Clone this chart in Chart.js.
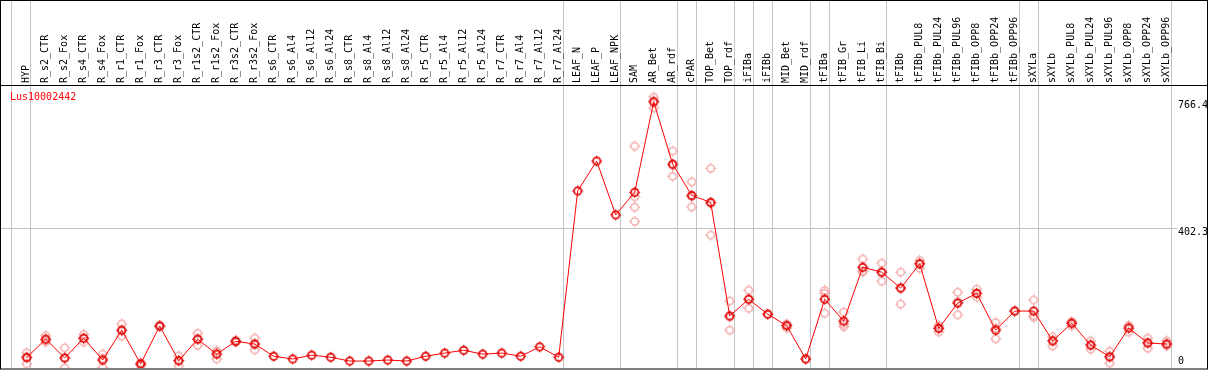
<!DOCTYPE html>
<html>
<head>
<meta charset="utf-8">
<script src="https://cdn.jsdelivr.net/npm/chart.js@4/dist/chart.umd.min.js"></script>
<style>
  html, body { margin: 0; padding: 0; background: #fff; }
  #wrap { width: 1209px; height: 370px; }
</style>
</head>
<body>
<div id="wrap"><canvas id="chart" width="1209" height="370"></canvas></div>
<script>
const geneName = 'Lus10002442';

const categories = [
  'HYP', 'R_s2_CTR', 'R_s2_Fox', 'R_s4_CTR', 'R_s4_Fox', 'R_r1_CTR', 'R_r1_Fox',
  'R_r3_CTR', 'R_r3_Fox', 'R_r1s2_CTR', 'R_r1s2_Fox', 'R_r3s2_CTR', 'R_r3s2_Fox',
  'R_s6_CTR', 'R_s6_Al4', 'R_s6_Al12', 'R_s6_Al24', 'R_s8_CTR', 'R_s8_Al4',
  'R_s8_Al12', 'R_s8_Al24', 'R_r5_CTR', 'R_r5_Al4', 'R_r5_Al12', 'R_r5_Al24',
  'R_r7_CTR', 'R_r7_Al4', 'R_r7_Al12', 'R_r7_Al24', 'LEAF_N', 'LEAF_P', 'LEAF_NPK',
  'SAM', 'AR_Bet', 'AR_rdf', 'cPAR', 'TOP_Bet', 'TOP_rdf', 'iFIBa', 'iFIBb',
  'MID_Bet', 'MID_rdf', 'tFIBa', 'tFIB_Gr', 'tFIB_Li', 'tFIB_Bi', 'tFIBb',
  'tFIBb_PUL8', 'tFIBb_PUL24', 'tFIBb_PUL96', 'tFIBb_OPP8', 'tFIBb_OPP24', 'tFIBb_OPP96',
  'sXYLa', 'sXYLb', 'sXYLb_PUL8', 'sXYLb_PUL24', 'sXYLb_PUL96', 'sXYLb_OPP8',
  'sXYLb_OPP24', 'sXYLb_OPP96'
];

// mean expression per tissue
const means = [
  30, 83, 29, 86, 23, 109, 12, 121, 21, 83, 40, 77, 69,
  34, 26, 37, 31, 20, 20, 23, 20, 34, 43, 51, 40, 43, 34, 61, 31,
  510, 596, 441, 506, 766.4, 587, 497, 477, 150, 198, 155, 122, 26,
  198, 135, 290, 276, 230, 300, 114, 187, 215, 109, 164,
  164, 78, 129, 66, 32, 115, 72, 69
];

// individual replicates (empty = not shown)
const replicates = [
  [44, 33, 12], [93, 80, 75], [58, 28, 0], [97, 85, 75], [40, 27, 2],
  [127, 107, 92], [15, 11, 8], [123, 121, 119], [35, 22, 6], [100, 83, 65],
  [49, 46, 26], [80, 77, 74], [86, 69, 52],
  [], [], [], [], [], [], [], [], [], [], [], [], [], [], [], [],
  [], [], [], [639, 493, 463, 422], [780, 770, 749], [625, 583, 552],
  [536, 493, 464], [575, 473, 383], [193, 147, 109], [224, 198, 172], [155],
  [127, 124, 115], [26], [223, 215, 158], [161, 126, 119], [314, 279, 277],
  [302, 276, 250], [276, 232, 184], [310, 301, 287], [122, 117, 104],
  [218, 191, 153], [227, 215, 204], [131, 114, 84], [164],
  [196, 151, 146], [90, 79, 64], [134, 130, 122], [78, 67, 54], [48, 34, 14],
  [122, 120, 104], [86, 73, 57], [78, 69, 64]
];

// group separators: drawn after these category indices
const groupEnds = [-1, 0, 28, 31, 34, 35, 37, 38, 39, 41, 42, 45, 52, 53, 60];

// right-hand tick values
const yTicks = [0, 402.3, 766.4];
const yGrid = [402.3];

const FONT = '10px "DejaVu Sans Mono", "Liberation Mono", monospace';

function makeMarker(color, lw) {
  const c = document.createElement('canvas');
  c.width = 13;
  c.height = 13;
  const g = c.getContext('2d');
  g.strokeStyle = color;
  g.lineWidth = lw;
  g.beginPath();
  g.arc(6.5, 6.5, 3.7, 0, Math.PI * 2);
  g.stroke();
  // tiny teeth round the ring
  g.fillStyle = color;
  [[6, 1], [6, 11], [1, 6], [11, 6]].forEach(([px, py]) => g.fillRect(px, py, 1, 1));
  return c;
}

const meanMarker = makeMarker('#e00000', 1.7);
const repMarker = makeMarker('#f29c9c', 1.3);

const meanPoints = means.map((v, i) => ({ x: i, y: v }));
const repPoints = [];
replicates.forEach((reps, i) => reps.forEach(v => repPoints.push({ x: i, y: v })));

const framePlugin = {
  id: 'frame',
  beforeDatasetsDraw(chart) {
    const { ctx, scales: { x, y }, chartArea } = chart;
    ctx.save();
    ctx.lineWidth = 1;
    ctx.strokeStyle = '#c4c4c4';
    // horizontal grid
    yGrid.forEach(v => {
      const py = Math.round(y.getPixelForValue(v)) + 0.5;
      ctx.beginPath();
      ctx.moveTo(chartArea.left, py);
      ctx.lineTo(1177, py);
      ctx.stroke();
    });
    // group separators through header and plot
    groupEnds.forEach(i => {
      const px = Math.round(x.getPixelForValue(i + 0.2)) + 0.5;
      ctx.beginPath();
      ctx.moveTo(px, 0);
      ctx.lineTo(px, chartArea.bottom);
      ctx.stroke();
    });
    ctx.restore();
  },
  afterDraw(chart) {
    const { ctx, scales: { x, y }, chartArea } = chart;
    ctx.save();
    // frame and header rule
    ctx.strokeStyle = '#000';
    ctx.lineWidth = 1;
    ctx.strokeRect(0.5, 0.5, 1207, 368.5);
    ctx.beginPath();
    ctx.moveTo(0, 85.5);
    ctx.lineTo(1208, 85.5);
    ctx.stroke();

    ctx.font = FONT;
    ctx.fillStyle = '#000';
    // rotated category labels
    categories.forEach((c, i) => {
      const px = x.getPixelForValue(i) - 0.5;
      ctx.save();
      ctx.translate(px, 83);
      ctx.rotate(-Math.PI / 2);
      ctx.textAlign = 'left';
      ctx.textBaseline = 'middle';
      ctx.fillText(c, 0, 0);
      ctx.restore();
    });

    // right-hand value labels
    ctx.textAlign = 'left';
    ctx.textBaseline = 'top';
    yTicks.forEach(v => {
      let top = y.getPixelForValue(v) - 1;
      if (top > chartArea.bottom - 12) top = chartArea.bottom - 12;
      ctx.fillText(String(v), 1178, top);
    });

    // gene name
    ctx.fillStyle = '#ff0000';
    ctx.textBaseline = 'middle';
    ctx.fillText(geneName, 10, 97);
    ctx.restore();
  }
};

new Chart(document.getElementById('chart'), {
  type: 'scatter',
  data: {
    datasets: [
      {
        label: 'mean',
        data: meanPoints,
        showLine: true,
        borderColor: '#ff0000',
        borderWidth: 1,
        pointStyle: meanMarker,
        pointRadius: 5,
        order: 1
      },
      {
        label: 'replicates',
        data: repPoints,
        showLine: false,
        pointStyle: repMarker,
        pointRadius: 5,
        order: 2
      }
    ]
  },
  options: {
    responsive: false,
    animation: false,
    devicePixelRatio: 1,
    layout: { autoPadding: false, padding: { left: 1, right: 2, top: 86, bottom: 2 } },
    plugins: {
      legend: { display: false },
      tooltip: { enabled: false }
    },
    events: [],
    scales: {
      x: { type: 'linear', display: false, min: -1.3526, max: 62.121 },
      y: { type: 'linear', display: false, min: 0, max: 812.1 }
    }
  },
  plugins: [framePlugin]
});
</script>
</body>
</html>
